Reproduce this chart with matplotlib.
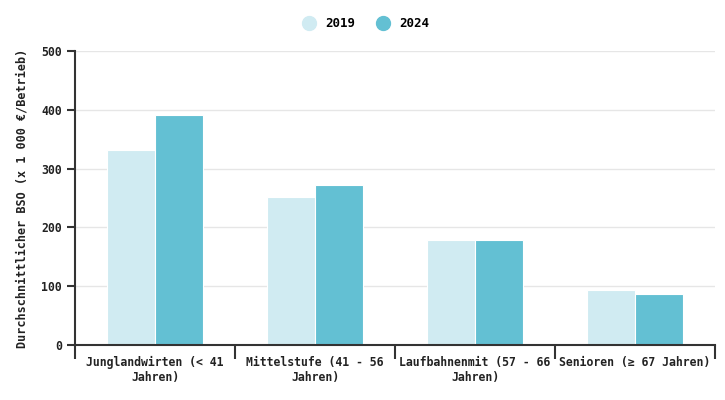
import numpy as np
import matplotlib.pyplot as plt
from matplotlib.lines import Line2D

# Data
categories = ["Junglandwirten (< 41\nJahren)", "Mittelstufe (41 - 56\nJahren)",
              "Laufbahnenmit (57 - 66\nJahren)", "Senioren (\u2265 67 Jahren)"]
years = ["2019", "2024"]
values_2019 = [332, 252, 179, 94]
values_2024 = [391, 272, 179, 86]
colors = ["#d0ebf2", "#63c0d3"]

plt.rcParams['font.family'] = ['DejaVu Sans Mono']
plt.rcParams['font.weight'] = 'bold'

fig = plt.figure(figsize=(7.25, 4.0), dpi=100)
ax = fig.add_axes([75 / 725, 55 / 400, 640 / 725, 294 / 400])

x = np.arange(len(categories))
width = 0.3
ax.bar(x - width / 2, values_2019, width, color=colors[0], edgecolor="white", linewidth=0.8, zorder=2)
ax.bar(x + width / 2, values_2024, width, color=colors[1], edgecolor="white", linewidth=0.8, zorder=2)

ax.set_xlim(-0.5, len(categories) - 0.5)
ax.set_ylim(0, 500)
ax.set_yticks([0, 100, 200, 300, 400, 500])
ax.grid(axis="y", color="#e6e6e6", linewidth=1, zorder=0)

# category labels between boundary ticks
ax.set_xticks(np.arange(-0.5, len(categories), 1.0))
ax.set_xticklabels([])
ax.set_xticks(x, minor=True)
ax.set_xticklabels(categories, minor=True, fontsize=8.3, fontweight="bold", color="#222222")
ax.tick_params(axis="x", which="major", length=10, width=1.5, color="#333333", direction="out")
ax.tick_params(axis="x", which="minor", length=0, pad=8)
ax.tick_params(axis="y", length=6, width=1.5, color="#333333", labelsize=8.3, labelcolor="#222222")

for side in ["top", "right"]:
    ax.spines[side].set_visible(False)
for side in ["left", "bottom"]:
    ax.spines[side].set_linewidth(1.5)
    ax.spines[side].set_color("#333333")

ax.set_ylabel("Durchschnittlicher BSO (x 1 000 \u20ac/Betrieb)", fontsize=8.5,
              fontweight="bold", color="#222222", labelpad=9)

handles = [Line2D([0], [0], marker="o", linestyle="", markersize=10,
                  markerfacecolor=c, markeredgecolor=c) for c in colors]
fig.legend(handles, years, loc="upper center", bbox_to_anchor=(0.5, 0.985), ncol=2,
           frameon=False, fontsize=9, handletextpad=0.3, columnspacing=1.2)

fig.savefig("out.png", dpi=100)
